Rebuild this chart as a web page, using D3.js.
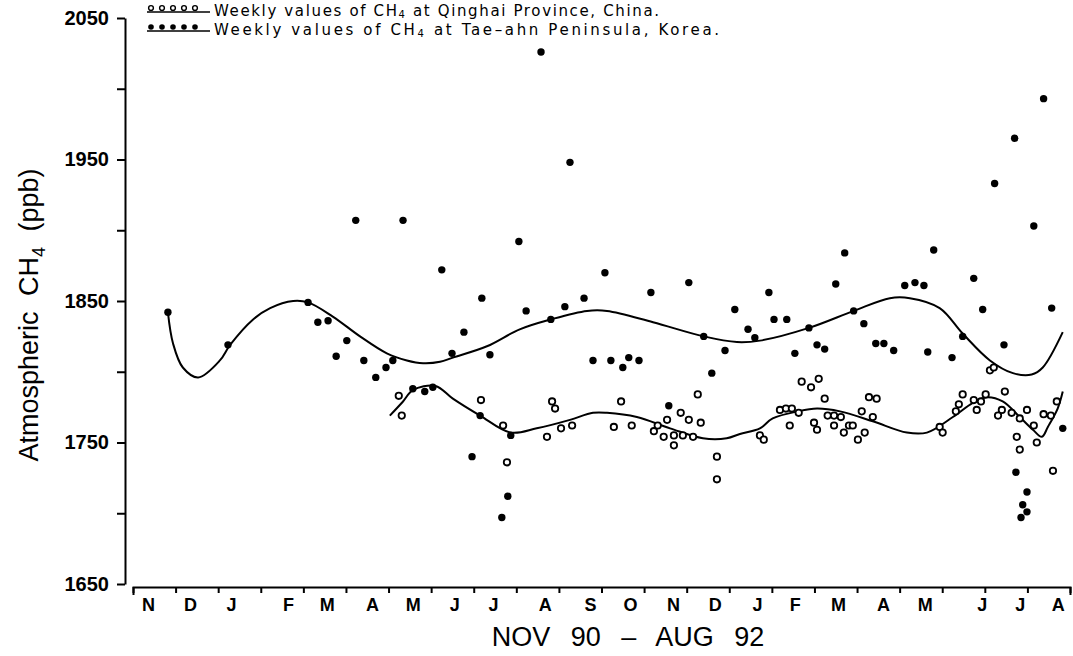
<!DOCTYPE html>
<html>
<head>
<meta charset="utf-8">
<style>
body { margin:0; background:#fff; }
svg { display:block; }
.axis path, .axis line { stroke:#000; stroke-width:2; }
.ylab text { font-family:"Liberation Sans",Arial,sans-serif; font-weight:bold; font-size:20px; }
.mlab text { font-family:"Liberation Sans",Arial,sans-serif; font-weight:bold; font-size:18px; }
.title { font-family:"Liberation Sans",Arial,sans-serif; font-size:27px; }
.legend { font-family:"DejaVu Sans",sans-serif; font-size:15px; }
</style>
</head>
<body>
<svg id="chart" width="1073" height="656"></svg>
<script src="https://cdnjs.cloudflare.com/ajax/libs/d3/7.8.5/d3.min.js"></script>
<script>
// x values are months since 1 Nov 1990, y values CH4 in ppb

// weekly values, Qinghai (open circles)
const qinghaiMonth = [6.24,6.31,8.17,8.69,8.78,9.72,9.84,9.91,10.05,10.31,11.29,11.46,11.71,12.23,12.32,12.46,12.54,12.70,12.70,12.86,
  12.91,13.05,13.15,13.26,13.33,13.71,13.71,14.72,14.81,15.19,15.33,15.47,15.63,15.42,15.70,15.92,16.10,16.24,15.99,16.06,
  16.31,16.46,16.62,16.46,16.81,16.90,16.69,17.02,17.18,17.11,17.28,17.46,17.37,18.94,19.01,19.32,19.39,19.48,19.74,19.81,
  19.91,20.02,20.12,20.21,20.47,20.40,20.31,20.63,20.99,20.82,21.15,20.75,20.82,21.22,21.38,21.55,21.69,21.60];
const qinghaiCH4 = [1783,1769,1780,1762,1736,1754,1779,1774,1760,1762,1761,1779,1762,1758,1762,1754,1766,1755,1748,1771,
  1755,1766,1754,1784,1764,1740,1724,1755,1752,1773,1774,1774,1771,1762,1793,1789,1795,1781,1764,1759,
  1769,1769,1768,1762,1762,1762,1757,1752,1757,1772,1782,1781,1768,1761,1757,1772,1777,1784,1780,1773,
  1779,1784,1801,1803,1786,1773,1769,1771,1773,1767,1762,1754,1745,1750,1770,1769,1779,1730];

// weekly values, Tae-ahn (filled dots)
const taeahnMonth = [0.82,2.23,4.11,4.34,4.58,4.77,5.02,5.23,5.42,5.70,5.94,6.10,6.34,6.57,6.85,7.04,7.25,7.49,7.77,8.19,
  8.38,8.15,7.96,8.80,8.66,8.87,9.06,9.23,9.58,9.81,10.14,10.26,10.59,10.80,11.08,11.22,11.50,11.64,11.88,12.16,
  12.58,13.05,13.40,13.59,13.90,14.13,14.44,14.60,14.93,15.05,15.35,15.54,15.87,16.06,16.24,16.50,16.71,16.92,17.16,17.44,
  17.63,17.86,18.12,18.36,18.57,18.66,18.80,19.23,19.48,19.74,19.95,20.23,20.45,20.70,20.73,20.99,20.89,20.99,20.85,21.15,
  21.38,21.57,21.83];
const taeahnCH4 = [1842,1819,1849,1835,1836,1811,1822,1907,1808,1796,1803,1808,1907,1788,1786,1789,1872,1813,1828,1852,
  1812,1769,1740,1712,1697,1755,1892,1843,2026,1837,1846,1948,1852,1808,1870,1808,1803,1810,1808,1856,
  1776,1863,1825,1799,1815,1844,1830,1824,1856,1837,1837,1813,1831,1819,1816,1862,1884,1843,1834,1820,
  1820,1815,1861,1863,1861,1814,1886,1810,1825,1866,1844,1933,1819,1965,1729,1715,1706,1701,1697,1903,
  1993,1845,1760];

// fitted curves
const qinghaiFitMonth = [6.03,6.34,6.57,7.10,7.51,8.15,8.87,9.48,10.26,10.80,11.13,11.83,12.61,13.38,13.94,14.25,14.72,15.02,15.61,16.06,
  16.60,17.37,18.17,18.64,19.25,19.72,20.05,20.42,20.82,21.13,21.34,21.48,21.71,21.83];
const qinghaiFitCH4 = [1769,1779,1787,1790,1781,1769,1757,1760,1766,1771,1771,1768,1760,1753,1753,1756,1760,1767,1772,1774,
  1772,1765,1757,1757,1768,1778,1782,1779,1768,1759,1754,1761,1774,1786];
const taeahnFitMonth = [0.82,0.94,1.17,1.53,2.04,2.28,2.82,3.22,3.76,4.11,4.69,5.33,5.96,6.43,6.81,7.21,7.51,8.31,9.08,9.81,
  10.66,11.13,12.21,13.40,14.18,14.72,15.87,16.92,17.77,18.24,18.94,19.48,20.12,20.66,21.10,21.36,21.83];
const taeahnFitCH4 = [1842,1820,1803,1796,1808,1819,1837,1845,1850,1849,1839,1825,1813,1808,1806,1807,1810,1818,1830,1837,
  1843,1843,1835,1825,1821,1822,1831,1843,1852,1852,1845,1827,1808,1799,1798,1803,1828];

// month letters and where they sit (months since 1 Nov 1990)
const monthLabels = ["N","D","J","F","M","A","M","J","J","A","S","O","N","D","J","F","M","A","M","J","J","A"];
const monthLabelAt = [0.35,1.34,2.30,3.64,4.55,5.61,6.57,7.54,8.45,9.67,10.73,11.67,12.68,13.66,14.65,15.54,16.55,17.61,18.59,19.93,20.82,21.71];
const yTickValues = [1650,1700,1750,1800,1850,1900,1950,2000,2050];
const yLabelValues = [1650,1750,1850,1950,2050];

const svg = d3.select("#chart");

const x = d3.scaleLinear().domain([0, 22]).range([133, 1070]);
const y = d3.scaleLinear().domain([1650, 2050]).range([584, 18]);

// y axis
svg.append("g")
  .attr("class", "axis ylab")
  .attr("transform", "translate(125,0)")
  .call(d3.axisLeft(y).tickValues(yTickValues).tickSize(8).tickSizeOuter(0).tickPadding(8)
    .tickFormat(d => yLabelValues.includes(d) ? d : ""));

// x axis: month boundaries
svg.append("g")
  .attr("class", "axis")
  .attr("transform", "translate(0,587)")
  .call(d3.axisBottom(x).tickValues(d3.range(0, 23)).tickSize(6).tickSizeOuter(8).tickFormat(""));

// month letters
const mlab = svg.append("g")
  .attr("class", "axis mlab")
  .attr("transform", "translate(0,587)")
  .call(d3.axisBottom(x).tickValues(monthLabelAt).tickSize(0).tickPadding(11)
    .tickFormat((d, i) => monthLabels[i]));
mlab.select(".domain").remove();

svg.selectAll("g.axis text").attr("fill", "#000");

// titles
svg.append("text")
  .attr("class", "title")
  .attr("transform", "translate(38,315) rotate(-90)")
  .attr("text-anchor", "middle")
  .style("word-spacing", "8px")
  .html('Atmospheric CH<tspan font-size="18" dy="7">4</tspan><tspan dy="-7"> (ppb)</tspan>');

svg.append("text")
  .attr("class", "title")
  .attr("x", 628).attr("y", 646)
  .attr("text-anchor", "middle")
  .style("word-spacing", "13px")
  .text("NOV 90 \u2013 AUG 92");

// fitted curves
const line = d3.line()
  .x(d => x(d[0])).y(d => y(d[1]))
  .curve(d3.curveCatmullRom.alpha(0.5));

svg.append("path")
  .datum(taeahnFitMonth.map((m, i) => [m, taeahnFitCH4[i]]))
  .attr("d", line).attr("fill", "none").attr("stroke", "#000").attr("stroke-width", 2);
svg.append("path")
  .datum(qinghaiFitMonth.map((m, i) => [m, qinghaiFitCH4[i]]))
  .attr("d", line).attr("fill", "none").attr("stroke", "#000").attr("stroke-width", 2);

// points
svg.append("g").selectAll("circle")
  .data(taeahnMonth.map((m, i) => [m, taeahnCH4[i]]))
  .join("circle")
  .attr("cx", d => x(d[0])).attr("cy", d => y(d[1]))
  .attr("r", 3.7).attr("fill", "#000");

svg.append("g").selectAll("circle")
  .data(qinghaiMonth.map((m, i) => [m, qinghaiCH4[i]]))
  .join("circle")
  .attr("cx", d => x(d[0])).attr("cy", d => y(d[1]))
  .attr("r", 3.2).attr("fill", "#fff").attr("stroke", "#000").attr("stroke-width", 1.8);

// legend
const legend = [
  {open: true, y: 8, text: "Qinghai Province, China.", len: 445},
  {open: false, y: 27, text: "Tae\u2013ahn Peninsula, Korea.", len: 505}
];
const lg = svg.append("g");
legend.forEach(l => {
  lg.append("line").attr("x1", 147).attr("x2", 210).attr("y1", l.y + 4).attr("y2", l.y + 4)
    .attr("stroke", "#000").attr("stroke-width", 1.5);
  lg.selectAll(null).data(d3.range(5)).join("circle")
    .attr("cx", i => 151 + i * 11).attr("cy", l.y)
    .attr("r", l.open ? 2.4 : 2.8)
    .attr("fill", l.open ? "#fff" : "#000")
    .attr("stroke", "#000").attr("stroke-width", l.open ? 1.4 : 0);
  lg.append("text").attr("class", "legend")
    .attr("x", 214).attr("y", l.y + 8)
    .attr("textLength", l.len).attr("lengthAdjust", "spacing")
    .html('Weekly values of CH<tspan font-size="10" dy="2">4</tspan><tspan dy="-2"> at ' + l.text + '</tspan>');
});
</script>
</body>
</html>
